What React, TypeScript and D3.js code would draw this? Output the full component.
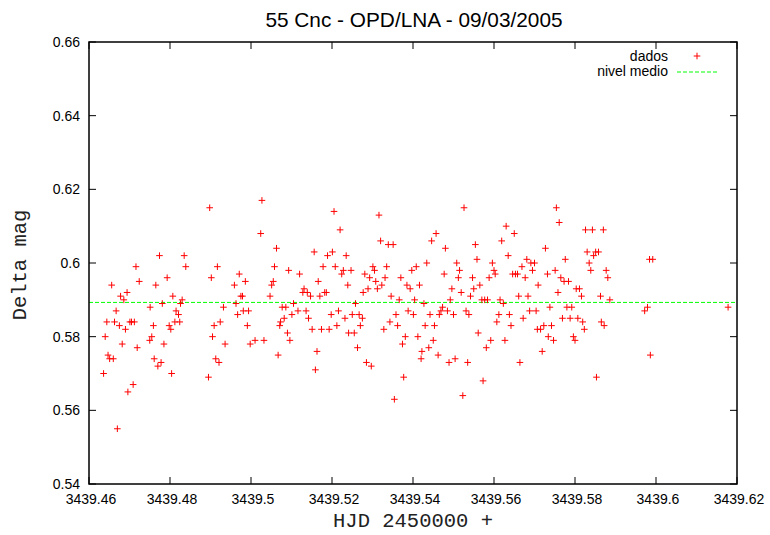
import React from 'react';
import * as d3 from 'd3';

const title = '55 Cnc - OPD/LNA - 09/03/2005';
const xLabel = 'HJD 2450000 +';
const yLabel = 'Delta mag';
const legendData = 'dados';
const legendMean = 'nivel medio';

const xTicks = [3439.46, 3439.48, 3439.5, 3439.52, 3439.54, 3439.56, 3439.58, 3439.6, 3439.62];
const yTicks = [0.54, 0.56, 0.58, 0.6, 0.62, 0.64, 0.66];
const hjdBase = 3439;
const meanLevel = 0.5893;

// [HJD - 2453439, delta mag]
const obsA: [number, number][] = [
  [.4774,.602],[.4835,.602],[.4716,.599],[.4839,.599],[.4656,.594],[.4724,.595],[.4765,.594],[.4793,.596],
  [.4694,.592],[.4678,.591],[.4686,.590],[.4807,.591],[.4830,.590],[.4751,.588],[.4781,.589],[.4826,.589],
  [.4667,.587],[.4815,.587],[.4821,.586],[.4644,.584],[.4663,.584],[.4675,.583],[.4690,.582],[.4701,.584],
  [.4705,.584],[.4712,.584],[.4759,.583],[.4798,.583],[.4802,.582],[.4812,.584],[.4824,.584],[.4640,.580],
  [.4755,.580],[.4750,.579],[.4682,.578],[.4785,.578],[.4719,.577],[.4647,.575],[.4651,.574],[.4660,.574],
  [.4761,.574],[.4778,.573],[.4770,.572],[.4636,.570],[.4804,.570],[.4709,.567],[.4696,.565],[.4670,.555],
];
const obsB: [number, number][] = [
  [.4898,.615],[.5027,.617],[.5024,.608],[.5063,.604],[.4917,.599],[.5058,.599],[.4902,.596],[.4971,.597],
  [.5093,.598],[.5120,.597],[.4986,.595],[.4959,.594],[.5055,.595],[.5051,.594],[.5131,.593],[.5128,.592],
  [.5139,.592],[.4975,.591],[.4979,.591],[.5047,.591],[.4932,.588],[.4963,.589],[.5077,.588],[.5086,.588],
  [.5105,.589],[.4967,.586],[.4981,.587],[.4994,.587],[.5116,.587],[.5136,.587],[.5101,.586],[.5082,.585],
  [.5142,.585],[.4909,.583],[.4924,.584],[.4991,.583],[.5071,.583],[.5073,.584],[.4905,.580],[.5090,.581],
  [.4936,.578],[.4998,.578],[.5010,.579],[.5032,.579],[.5096,.579],[.5067,.575],[.4913,.574],[.4921,.573],
  [.4895,.569],
];
const obsC: [number, number][] = [
  [.5205,.614],[.5316,.613],[.5220,.609],[.5320,.606],[.5339,.605],[.5351,.605],[.5156,.603],[.5189,.602],
  [.5201,.603],[.5235,.602],[.5178,.599],[.5208,.599],[.5228,.598],[.5224,.597],[.5247,.598],[.5301,.599],
  [.5305,.598],[.5335,.599],[.5397,.598],[.5408,.599],[.5281,.597],[.5293,.596],[.5308,.595],[.5331,.596],
  [.5370,.596],[.5166,.595],[.5239,.594],[.5323,.594],[.5289,.593],[.5312,.593],[.5385,.594],[.5393,.593],
  [.5416,.594],[.5277,.592],[.5147,.591],[.5170,.591],[.5182,.592],[.5186,.592],[.5346,.591],[.5366,.590],
  [.5404,.590],[.5258,.589],[.5427,.589],[.5216,.587],[.5388,.587],[.5198,.586],[.5250,.586],[.5267,.586],
  [.5275,.585],[.5232,.585],[.5358,.586],[.5401,.586],[.5151,.582],[.5174,.582],[.5193,.582],[.5212,.583],
  [.5270,.583],[.5343,.584],[.5362,.583],[.5328,.582],[.5241,.581],[.5255,.581],[.5381,.580],[.5412,.580],
  [.5374,.578],[.5263,.577],[.5163,.576],[.5422,.576],[.5420,.574],[.5285,.573],[.5297,.572],[.5159,.571],
  [.5377,.569],[.5354,.563],
];
const obsD: [number, number][] = [
  [.5526,.615],[.5630,.610],[.5650,.608],[.5457,.608],[.5446,.606],[.5619,.606],[.5554,.605],[.5480,.604],
  [.5635,.602],[.5434,.600],[.5508,.600],[.5558,.601],[.5596,.600],[.5681,.601],[.5700,.600],[.5691,.600],
  [.5515,.598],[.5600,.598],[.5669,.599],[.5695,.598],[.5477,.597],[.5603,.597],[.5646,.597],[.5653,.597],
  [.5658,.597],[.5512,.596],[.5547,.596],[.5588,.596],[.5677,.596],[.5565,.594],[.5709,.594],[.5496,.593],
  [.5550,.593],[.5519,.592],[.5542,.591],[.5661,.591],[.5684,.591],[.5492,.590],[.5570,.590],[.5577,.590],
  [.5584,.590],[.5615,.590],[.5623,.589],[.5473,.588],[.5469,.587],[.5485,.587],[.5531,.587],[.5688,.587],
  [.5704,.587],[.5442,.586],[.5465,.586],[.5500,.586],[.5538,.586],[.5612,.586],[.5638,.586],[.5672,.585],
  [.5607,.584],[.5430,.583],[.5453,.583],[.5642,.583],[.5707,.582],[.5561,.581],[.5450,.579],[.5592,.579],
  [.5627,.579],[.5439,.577],[.5581,.577],[.5462,.575],[.5504,.574],[.5489,.573],[.5535,.573],[.5664,.573],
  [.5573,.568],[.5523,.564],
];
const obsE: [number, number][] = [
  [.5754,.615],[.5761,.611],[.5826,.609],[.5843,.609],[.5870,.609],[.5727,.604],[.5830,.603],[.5851,.603],
  [.5858,.603],[.5846,.602],[.5776,.601],[.5835,.600],[.5984,.601],[.5992,.601],[.5751,.598],[.5839,.598],
  [.5877,.598],[.5732,.597],[.5765,.596],[.5881,.596],[.5773,.595],[.5784,.595],[.5803,.593],[.5811,.593],
  [.5758,.592],[.5816,.591],[.5863,.591],[.5886,.590],[.5738,.588],[.5780,.588],[.5792,.588],[.5979,.588],
  [.5972,.587],[.5769,.585],[.5788,.585],[.5807,.585],[.5819,.584],[.5865,.584],[.5872,.583],[.5715,.582],
  [.5723,.583],[.5742,.583],[.5823,.582],[.5734,.580],[.5747,.579],[.5796,.580],[.5800,.579],[.5719,.576],
  [.5986,.575],[.5853,.569],[.6178,.588],
];

const observations = [...obsA, ...obsB, ...obsC, ...obsD, ...obsE];

const sans = "'Liberation Sans', Arial, Helvetica, sans-serif";
const mono = "'Liberation Mono', 'Courier New', monospace";

const fmt = (v: number) => String(+v.toFixed(2));

export default function App() {
  const W = 770, H = 535;
  const m = { left: 89, right: 737, top: 42, bottom: 484 };
  const x = d3.scaleLinear().domain([3439.46, 3439.62]).range([m.left, m.right]);
  const y = d3.scaleLinear().domain([0.54, 0.66]).range([m.bottom, m.top]);
  const tick = 7;
  const arm = 3.3;
  const plus = (cx: number, cy: number) => `M${cx - arm},${cy}h${2 * arm}M${cx},${cy - arm}v${2 * arm}`;
  const pointsPath = observations.map(([t, v]) => plus(x(hjdBase + t), y(v))).join('');
  const line = d3.line<number>().x((d) => x(d)).y(() => y(meanLevel));

  return (
    <div style={{ position: 'absolute', left: 0, top: 0 }}>
      <svg width={W} height={H} viewBox={`0 0 ${W} ${H}`} style={{ display: 'block', background: '#fff' }}>
        <rect x={0} y={0} width={W} height={H} fill="#fff" />
        <g stroke="#000" strokeWidth={1}>
          {xTicks.map((t) => (
            <g key={'xt' + t}>
              <line x1={x(t)} x2={x(t)} y1={m.bottom} y2={m.bottom - tick} />
              <line x1={x(t)} x2={x(t)} y1={m.top} y2={m.top + tick} />
            </g>
          ))}
          {yTicks.map((t) => (
            <g key={'yt' + t}>
              <line x1={m.left} x2={m.left + tick} y1={y(t)} y2={y(t)} />
              <line x1={m.right} x2={m.right - tick} y1={y(t)} y2={y(t)} />
            </g>
          ))}
        </g>
        <g fontFamily={sans} fontSize={14} fill="#000">
          {xTicks.map((t) => (
            <text key={'xl' + t} x={x(t) + 2} y={504} textAnchor="middle">{fmt(t)}</text>
          ))}
          {yTicks.map((t) => (
            <text key={'yl' + t} x={80} y={y(t) + 5} textAnchor="end">{fmt(t)}</text>
          ))}
        </g>
        <path d={line([3439.46, 3439.62]) || ''} stroke="#00ff00" strokeWidth={1} strokeDasharray="4,2" fill="none" />
        <path d={pointsPath} stroke="#ff0000" strokeWidth={1} fill="none" />
        <rect x={m.left} y={m.top} width={m.right - m.left} height={m.bottom - m.top} fill="none" stroke="#000" strokeWidth={1.5} />
        <g fontFamily={sans} fontSize={14} fill="#000">
          <text x={668} y={61} textAnchor="end">{legendData}</text>
          <text x={668} y={76} textAnchor="end">{legendMean}</text>
        </g>
        <path d={plus(697, 56)} stroke="#ff0000" strokeWidth={1} fill="none" />
        <line x1={677} x2={719} y1={72} y2={72} stroke="#00ff00" strokeWidth={1} strokeDasharray="4,2" />
        <text x={414} y={26.5} textAnchor="middle" fontFamily={sans} fontSize={20.8}>{title}</text>
        <text x={413} y={527} textAnchor="middle" fontFamily={mono} fontSize={20.5} fill="#222">{xLabel}</text>
        <text x={0} y={0} transform={`translate(26,${265}) rotate(-90)`} textAnchor="middle" fontFamily={mono} fontSize={20.5} fill="#222">{yLabel}</text>
      </svg>
    </div>
  );
}
